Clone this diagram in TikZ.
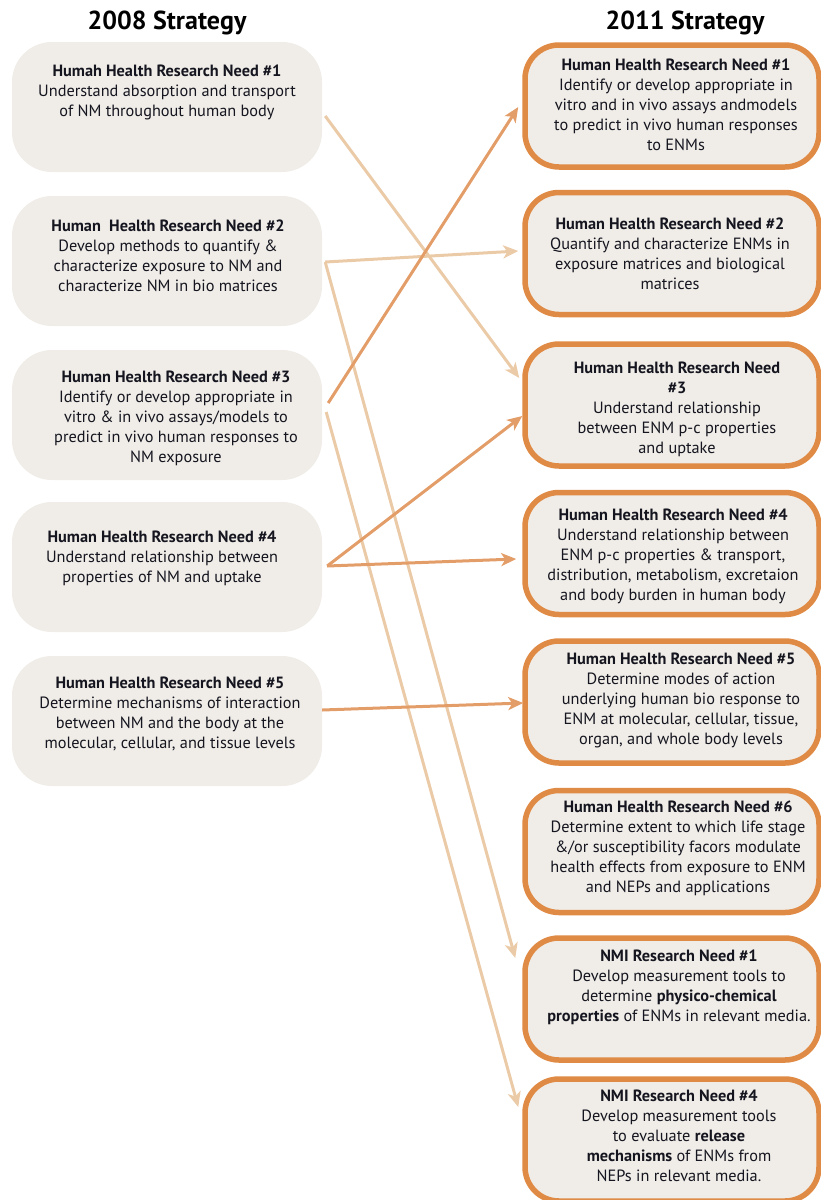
\documentclass[tikz,border=0pt]{standalone}
\usepackage{fontspec}
\setmainfont{PT Sans}
\usetikzlibrary{arrows.meta}
\definecolor{boxfill}{HTML}{F0EDE8}
\definecolor{boxedge}{HTML}{DF8A45}
\definecolor{arrowlight}{HTML}{EBCBA7}
\definecolor{arrowdark}{HTML}{E39D68}
\definecolor{ink}{HTML}{15151F}
\begin{document}
\begin{tikzpicture}[x=1pt,y=-1pt,
  oldbox/.style={fill=boxfill, draw=none, rounded corners=40pt,
    minimum width=310pt, minimum height=130pt, inner sep=0pt},
  newbox/.style={fill=boxfill, draw=boxedge, line width=5.5pt, rounded corners=34pt,
    minimum width=294pt, minimum height=122pt, inner sep=0pt},
  body/.style={text=ink, align=center, anchor=north, inner sep=0pt,
    font=\fontsize{16.3}{20}\selectfont},
  title/.style={font=\fontsize{26}{28}\selectfont\bfseries, text=black},
  link/.style={line width=3pt, -{Stealth[length=15pt,width=13pt,inset=4pt]}},
  lightlink/.style={link, draw=arrowlight},
  darklink/.style={link, draw=arrowdark}]

\useasboundingbox (0,0) rectangle (820,1200);

% column headings
\node[title] (t2008) at (167,23) {2008 Strategy};
\node[title] (t2011) at (685,23) {2011 Strategy};

% 2008 research needs
\node[oldbox] (l1) at (167,107) {};
\node[oldbox] (l2) at (167,261) {};
\node[oldbox] (l3) at (167,415) {};
\node[oldbox] (l4) at (167,567) {};
\node[oldbox] (l5) at (167,721) {};

\node[body] (l1t) at (167,62) {\strut\textbf{Humah Health Research Need \#1}\\
  Understand absorption and transport\\ of NM throughout human body};
\node[body] (l2t) at (168,217) {\strut\textbf{Human\ \ Health Research Need \#2}\\
  Develop methods to quantify \&\\ characterize exposure to NM and\\
  characterize NM in bio matrices};
\node[body] (l3t) at (176,368) {\strut\textbf{Human Health Research Need \#3}\\
  Identify or develop appropriate in\\ vitro \& in vivo assays/models to\\
  predict in vivo human responses to\\ NM exposure};
\node[body] (l4t) at (162,528) {\strut\textbf{Human Health Research Need \#4}\\
  Understand relationship between\\ properties of NM and uptake};
\node[body] (l5t) at (170,674) {\strut\textbf{Human Health Research Need \#5}\\
  Determine mechanisms of interaction\\ between NM and the body at the\\
  molecular, cellular, and tissue levels};

% 2011 research needs
\node[newbox] (r1) at (672,106) {};
\node[newbox] (r2) at (672,253.5) {};
\node[newbox] (r3) at (672,405) {};
\node[newbox] (r4) at (672,553.5) {};
\node[newbox] (r5) at (672,702) {};
\node[newbox] (r6) at (672,851.5) {};
\node[newbox] (r7) at (672,999) {};
\node[newbox] (r8) at (672,1140) {};

\node[body] (r1t) at (676,56) {\strut\textbf{Human Health Research Need \#1}\\
  Identify or develop appropriate in\\ vitro and in vivo assays andmodels\\
  to predict in vivo human responses\\ to ENMs};
\node[body] (r2t) at (670,215) {\strut\textbf{Human Health Research Need \#2}\\
  Quantify and characterize ENMs in\\ exposure matrices and biological\\ matrices};
\node[body] (r3t) at (677,359) {\strut\textbf{Human Health Research Need}\\
  \textbf{\#3}\\ Understand relationship\\ between ENM p-c properties\\ and uptake};
\node[body] (r4t) at (673,506) {\strut\textbf{Human Health Research Need \#4}\\
  Understand relationship between\\ ENM p-c properties \& transport,\\
  distribution, metabolism, excretaion\\ and body burden in human body};
\node[body] (r5t) at (681,650) {\strut\textbf{Human Health Research Need \#5}\\
  Determine modes of action\\ underlying human bio response to\\
  ENM at molecular, cellular, tissue,\\ organ, and whole body levels};
\node[body] (r6t) at (678,798) {\strut\textbf{Human Health Research Need \#6}\\
  Determine extent to which life stage\\ \&/or susceptibility facors modulate\\
  health effects from exposure to ENM\\ and NEPs and applications};
\node[body] (r7t) at (679,947) {\strut\textbf{NMI Research Need \#1}\\
  Develop measurement tools to\\ determine \textbf{physico-chemical}\\
  \textbf{properties} of ENMs in relevant media.};
\node[body] (r8t) at (679,1087) {\strut\textbf{NMI Research Need \#4}\\
  Develop measurement tools\\ to evaluate \textbf{release}\\
  \textbf{mechanisms} of ENMs from\\ NEPs in relevant media.};

% links carried over without change of emphasis
\draw[lightlink] ([shift={(3,9)}]l1.east) -- ([shift={(-3,-27)}]r3.west);
\draw[lightlink] ([shift={(3,1)}]l2.east) -- ([shift={(-4,-2.5)}]r2.west);
\draw[lightlink] ([shift={(3,1)}]l2.east) -- ([shift={(-7,-41)}]r7.west);
\draw[lightlink] ([shift={(4,-3)}]l3.east) -- ([shift={(-4,-33)}]r8.west);

% links to re-framed needs
\draw[darklink] ([shift={(6,-12)}]l3.east) -- ([shift={(-4,1)}]r1.west);
\draw[darklink] ([shift={(5,-1)}]l4.east) -- ([shift={(0,11)}]r3.west);
\draw[darklink] ([shift={(5,-1)}]l4.east) -- ([shift={(-6,5.5)}]r4.west);
\draw[darklink] ([shift={(0,-11)}]l5.east) -- ([shift={(1,1)}]r5.west);
\end{tikzpicture}
\end{document}
